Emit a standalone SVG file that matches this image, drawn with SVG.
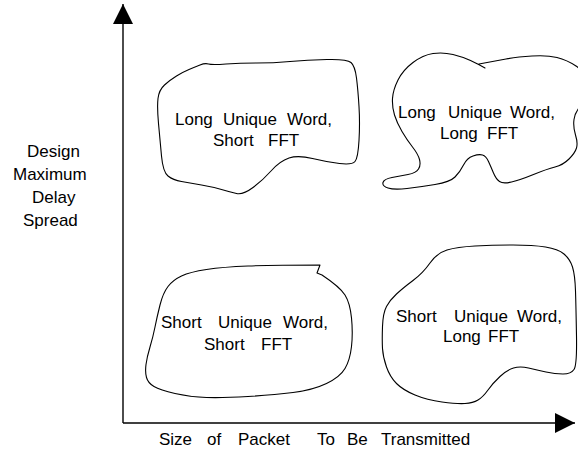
<svg xmlns="http://www.w3.org/2000/svg" width="578" height="450" viewBox="0 0 578 450">
  <style>
    .blob { fill: none; stroke: #000; stroke-width: 1.1; stroke-linejoin: round; stroke-linecap: round; }
    .axis { fill: none; stroke: #000; stroke-width: 1.4; }
    text { font-family: "Liberation Sans", Arial, sans-serif; font-size: 17px; fill: #000; }
  </style>
  <defs>
    <marker id="arrow" markerUnits="userSpaceOnUse" markerWidth="20" markerHeight="20" refX="20" refY="10" orient="auto">
      <path d="M0,0 L20,10 L0,20 Z" fill="#000"/>
    </marker>
  </defs>
  <rect width="578" height="450" fill="#fff"/>

  <!-- axes -->
  <g id="connectors">
    <line class="axis" x1="123" y1="423" x2="123" y2="4" marker-end="url(#arrow)"/>
    <line class="axis" x1="123" y1="423" x2="575" y2="423" marker-end="url(#arrow)"/>
  </g>

  <!-- axis labels -->
  <g id="y-label">
    <text x="27" y="157">Design</text>
    <text x="13" y="180">Maximum</text>
    <text x="32" y="203">Delay</text>
    <text x="23" y="226">Spread</text>
  </g>
  <g id="x-label">
    <text y="445"><tspan x="159">Size</tspan><tspan x="207">of</tspan><tspan x="238">Packet</tspan><tspan x="317">To</tspan><tspan x="347">Be</tspan><tspan x="381">Transmitted</tspan></text>
  </g>

  <!-- upper left region -->
  <g id="long-uw-short-fft">
    <path class="blob" d="M189,69.5 Q195,67 200,65 Q205,63 208.5,64 Q212,65 226,64 Q240,63 256.5,63 Q273,63 290,61.5 Q307,60 327,59.5 Q347,59 351,62.5 Q355,66 356.5,78 Q358,90 359,106.5 Q360,123 359,140.5 Q358,158 355,161.5 Q352,165 339.5,163.5 Q327,162 312.5,158.5 Q298,155 289,158 Q280,161 271.5,170.5 Q263,180 253,187.5 Q243,195 236.5,193.5 Q230,192 221.5,189.5 Q213,187 201.5,185 Q190,183 181.5,181.5 Q173,180 168,176 Q163,172 161.5,156 Q160,140 158.5,123.5 Q157,107 158,98.5 Q159,90 164.5,85 Q170,80 176.5,76 Q183,72 189,69.5 Z"/>
    <text y="125"><tspan x="175">Long</tspan><tspan x="223">Unique</tspan><tspan x="287">Word,</tspan></text>
    <text y="146"><tspan x="213">Short</tspan><tspan x="268">FFT</tspan></text>
  </g>

  <!-- upper right region -->
  <g id="long-uw-long-fft">
    <path class="blob" d="M479,64 Q495,61 506,59 Q517,57 532,56 Q547,55 557,57.5 Q567,60 576,66 Q585,72 585.5,86 Q586,100 580.5,106 Q575,112 574,119.5 Q573,127 575.5,135 Q578,143 576.5,148 Q575,153 569,159 Q563,165 555,167 Q547,169 533.5,174.5 Q520,180 511.5,182 Q503,184 499.5,181.5 Q496,179 493.5,173 Q491,167 488.5,161.5 Q486,156 482.5,155 Q479,154 473,156 Q467,158 463.5,165 Q460,172 455,177 Q450,182 435,184.5 Q420,187 407,188.5 Q394,190 388,188 Q382,186 383,182.5 Q384,179 392,177.5 Q400,176 408,174.5 Q416,173 418.5,169 Q421,165 419.5,159.5 Q418,154 412.5,147 Q407,140 402,131.5 Q397,123 394.5,115 Q392,107 392.5,98.5 Q393,90 398,80 Q403,70 413,62.5 Q423,55 433,53.5 Q443,52 453,54.5 Q463,57 470.5,60.5 Q478,64 485,68"/>
    <text y="118"><tspan x="398">Long</tspan><tspan x="448">Unique</tspan><tspan x="510">Word,</tspan></text>
    <text y="139"><tspan x="440">Long</tspan><tspan x="487">FFT</tspan></text>
  </g>

  <!-- lower left region -->
  <g id="short-uw-short-fft">
    <path class="blob" d="M322,275 Q340,287 345,295 Q350,303 351.5,318 Q353,333 351.5,346.5 Q350,360 345,368.5 Q340,377 326.5,383.5 Q313,390 293,392.5 Q273,395 248,396.5 Q223,398 206.5,397.5 Q190,397 175,393.5 Q160,390 154,386.5 Q148,383 146.5,377.5 Q145,372 146,364.5 Q147,357 150,347 Q153,337 155,327 Q157,317 160,305 Q163,293 168,286.5 Q173,280 181.5,276 Q190,272 206.5,269.5 Q223,267 248,266 Q273,265 320,265 L317,273 L322,275"/>
    <text y="328"><tspan x="161">Short</tspan><tspan x="218">Unique</tspan><tspan x="283">Word,</tspan></text>
    <text y="350"><tspan x="204">Short</tspan><tspan x="261">FFT</tspan></text>
  </g>

  <!-- lower right region -->
  <g id="short-uw-long-fft">
    <path class="blob" d="M430,263 Q437,253 447,250 Q457,247 475,246 Q493,245 513,245 Q533,245 545.5,247 Q558,249 564,254 Q570,259 572.5,267 Q575,275 575.5,291 Q576,307 576.5,336 Q577,365 574,369.5 Q571,374 563,374 Q555,374 546,372 Q537,370 528.5,368 Q520,366 513.5,368 Q507,370 500,376.5 Q493,383 488,390 Q483,397 478,400 Q473,403 465,403.5 Q457,404 442,402 Q427,400 415,395 Q403,390 396.5,383.5 Q390,377 386.5,367 Q383,357 382.5,348.5 Q382,340 382.5,326.5 Q383,313 386.5,306.5 Q390,300 396.5,294 Q403,288 413,280.5 Q423,273 430,263 Z"/>
    <text y="322"><tspan x="396">Short</tspan><tspan x="454">Unique</tspan><tspan x="517">Word,</tspan></text>
    <text y="342"><tspan x="443">Long</tspan><tspan x="488">FFT</tspan></text>
  </g>
</svg>
